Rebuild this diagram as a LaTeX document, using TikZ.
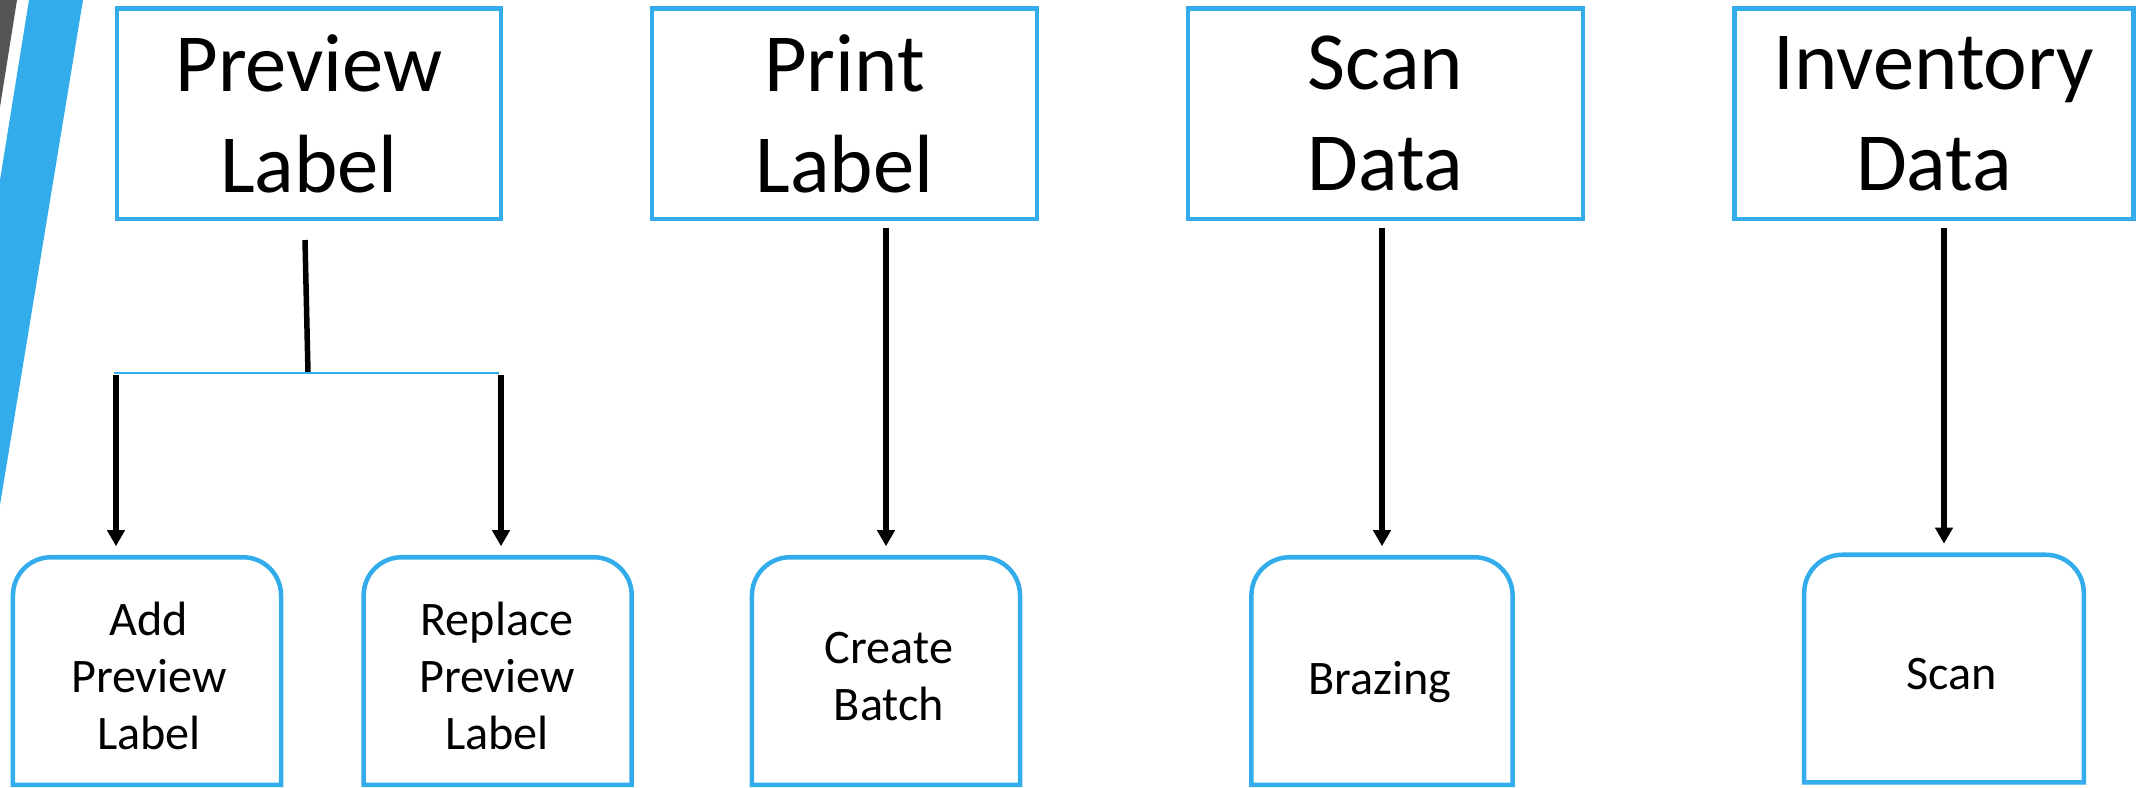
\documentclass[tikz,border=0pt]{standalone}
\usepackage{fontspec}
\setmainfont{Carlito}
\usetikzlibrary{arrows.meta}
\definecolor{tabblue}{RGB}{50,172,235}
\definecolor{bargray}{RGB}{85,85,85}
\begin{document}
\begin{tikzpicture}[x=0.01cm,y=-0.01cm,
    topbox/.style={draw=tabblue,line width=0.045cm,minimum height=2.105cm,inner sep=0pt,align=center,font=\fontsize{23.5}{28.7}\selectfont},
    tabbox/.style={minimum height=2.26cm,inner sep=0pt},
    tabline/.style={draw=tabblue,line width=0.045cm},
    tabtext/.style={align=center,inner sep=0pt,font=\fontsize{13.7}{16.2}\selectfont},
    stem/.style={line width=0.055cm},
    flow/.style={stem,-{Triangle[width=0.17cm,length=0.16cm]},shorten >=0.11cm}]
  \useasboundingbox (0,0) rectangle (2136,787);
  % slanted bars on the left edge
  \fill[bargray] (0,0) -- (17,0) -- (0,107) -- cycle;
  \fill[tabblue] (29,0) -- (83,0) -- (0,505) -- (0,180) -- cycle;
  % top row
  \node[topbox,minimum width=3.84cm] (prevlbl) at (309,113.75) {Preview\\Label};
  \node[topbox,minimum width=3.85cm] (printlbl) at (844.5,113.75) {Print\\Label};
  \node[topbox,minimum width=3.95cm] (scandata) at (1385.5,113.75) {Scan\\Data};
  \node[topbox,minimum width=3.985cm] (invdata) at (1934,113.75) {Inventory\\Data};
  % bottom row
  \node[tabbox,minimum width=2.665cm] (addprev) at (147,671) {};
  \node[tabbox,minimum width=2.665cm] (replprev) at (497.7,671) {};
  \node[tabbox,minimum width=2.665cm] (batch) at (886,671) {};
  \node[tabbox,minimum width=2.596cm] (brazing) at (1382,671) {};
  \node[tabbox,minimum width=2.78cm] (scan) at (1944,668.5) {};
  \foreach \t in {addprev,replprev,batch,brazing,scan}
    \draw[tabline] (\t.south west) -- ([yshift=-0.38cm]\t.north west)
      arc[start angle=180,end angle=90,radius=0.38cm] -- ([xshift=-0.38cm]\t.north east)
      arc[start angle=90,end angle=0,radius=0.38cm] -- (\t.south east) -- cycle;
  \node[tabtext] (addprevtxt) at (149,676) {Add\\Preview\\Label};
  \node[tabtext] (replprevtxt) at (497,676) {Replace\\Preview\\Label};
  \node[tabtext] (batchtxt) at (889,677) {Create\\Batch};
  \node[tabtext] (brazingtxt) at (1380,682) {Brazing};
  \node[tabtext] (scantxt) at (1952,674.5) {Scan};
  % fork under Preview Label
  \coordinate (prevstem) at (305,240);
  \coordinate (fork) at (308,373);
  \coordinate (forkleft) at (114,373);
  \coordinate (forkright) at (499,373);
  \coordinate (dropleft) at (116,375);
  \coordinate (dropright) at (501,375);
  \draw[stem] (prevstem) -- (fork);
  \draw[tabblue,line width=0.02cm] (forkleft) -- (forkright);
  \draw[flow] (dropleft) -- (dropleft |- addprev.north);
  \draw[flow] (dropright) -- (dropright |- replprev.north);
  % straight drops
  \foreach \a/\b in {printlbl/batch,scandata/brazing,invdata/scan}
    \draw[flow] ([yshift=-0.07cm]\a.south -| \b.north) -- (\b.north);
\end{tikzpicture}
\end{document}
